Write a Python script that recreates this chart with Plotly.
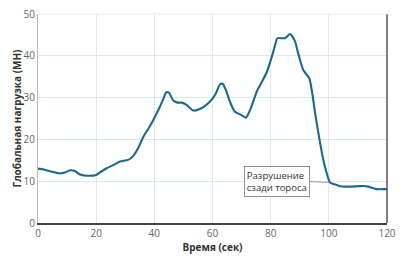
import plotly.graph_objects as go

time_s = [0, 2, 4.5, 7, 9, 11, 12.5, 14.5, 17, 20, 21.5, 23.6, 26, 28.2, 31, 32.7, 34.5, 36.2,
          38, 39.6, 41.5, 43, 44, 45, 46.5, 48, 49.4, 51, 53.4, 56, 59.1, 61, 62.6, 63.5, 64.5, 66,
          67.7, 69.5, 71.5, 72.9, 75.2, 77, 78.6, 80.4, 81.5, 82.3, 84.9, 86.7, 88.4, 89.3, 90.1,
          91.2, 93.3, 94.3, 95.3, 97, 98.3, 99.3, 100.4, 102.7, 104, 107.3, 110, 111.9, 113.5,
          116.5, 119.3, 120]
load_mn = [13, 12.8, 12.3, 11.9, 12.0, 12.6, 12.5, 11.6, 11.3, 11.5, 12.2, 13.1, 13.9, 14.7, 15.1,
           16.0, 18.0, 20.6, 22.6, 24.6, 27.2, 29.5, 31.2, 31.2, 29.3, 28.8, 28.8, 28.3, 26.9, 27.4,
           29.0, 30.8, 33.2, 33.3, 32.0, 29.0, 26.6, 26.0, 25.2, 27.0, 31.4, 33.8, 36.0, 39.8, 42.5,
           44.2, 44.2, 45.2, 43.4, 41.0, 39.0, 36.6, 34.6, 31.0, 26.2, 19.1, 14.5, 11.9, 9.7, 9.1,
           8.8, 8.7, 8.8, 8.85, 8.7, 8.1, 8.1, 8.1]

x_ticks = [0, 20, 40, 60, 80, 100, 120]
y_ticks = [0, 10, 20, 30, 40, 50]

fig = go.Figure()
fig.add_trace(go.Scatter(
    x=time_s, y=load_mn, mode="lines",
    line=dict(color="#1d6891", width=2.1, shape="spline", smoothing=0.6),
    hoverinfo="skip", showlegend=False,
))

fig.add_annotation(
    x=100.4, y=9.7, xref="x", yref="y",
    ax=93.6, ay=9.9, axref="x", ayref="y",
    text="Разрушение<br>сзади тороса",
    showarrow=True, arrowhead=0, arrowwidth=0.8, arrowcolor="#888888",
    font=dict(family="Open Sans", size=9.5, color="#333333"),
    bordercolor="#777777", borderwidth=0.8, borderpad=2, bgcolor="white",
    align="left", xanchor="right", yanchor="middle", standoff=0, startstandoff=0,
)

fig.update_layout(
    width=412, height=256,
    margin=dict(l=38, r=25, t=14, b=33),
    paper_bgcolor="white", plot_bgcolor="white",
    font=dict(family="Open Sans", size=10, color="#666666"),
    xaxis=dict(
        range=[0, 120], tickvals=x_ticks, ticktext=[str(v) for v in x_ticks],
        showgrid=True, gridcolor="#dce8f2", gridwidth=1, zeroline=False,
        showline=True, linecolor="#444444", linewidth=2, mirror=False,
        ticks="", tickfont=dict(size=10, color="#666666"), automargin=False,
        title=dict(text="<b>Время (сек)</b>", font=dict(size=10, color="#333333"), standoff=0),
    ),
    yaxis=dict(
        range=[0, 50], tickvals=y_ticks, ticktext=[str(v) for v in y_ticks],
        showgrid=True, gridcolor="#dce8f2", gridwidth=1, zeroline=False,
        showline=True, linecolor="#bbbbbb", linewidth=1,
        ticks="", tickfont=dict(size=10, color="#666666"), automargin=False,
        title=dict(text="<b>Глобальная нагрузка (МН)</b>", font=dict(size=10, color="#333333"), standoff=0),
    ),
)

fig.add_shape(type="line", xref="paper", yref="paper", x0=1, x1=1, y0=0, y1=1,
              line=dict(color="#555555", width=1.5))
fig.add_shape(type="line", xref="paper", yref="paper", x0=0, x1=1, y0=1, y1=1,
              line=dict(color="#eeeeee", width=1))

fig.write_html("out.html", config={"displayModeBar": False, "staticPlot": True},
               post_script="document.body.style.margin='0';document.body.style.overflow='hidden';")
